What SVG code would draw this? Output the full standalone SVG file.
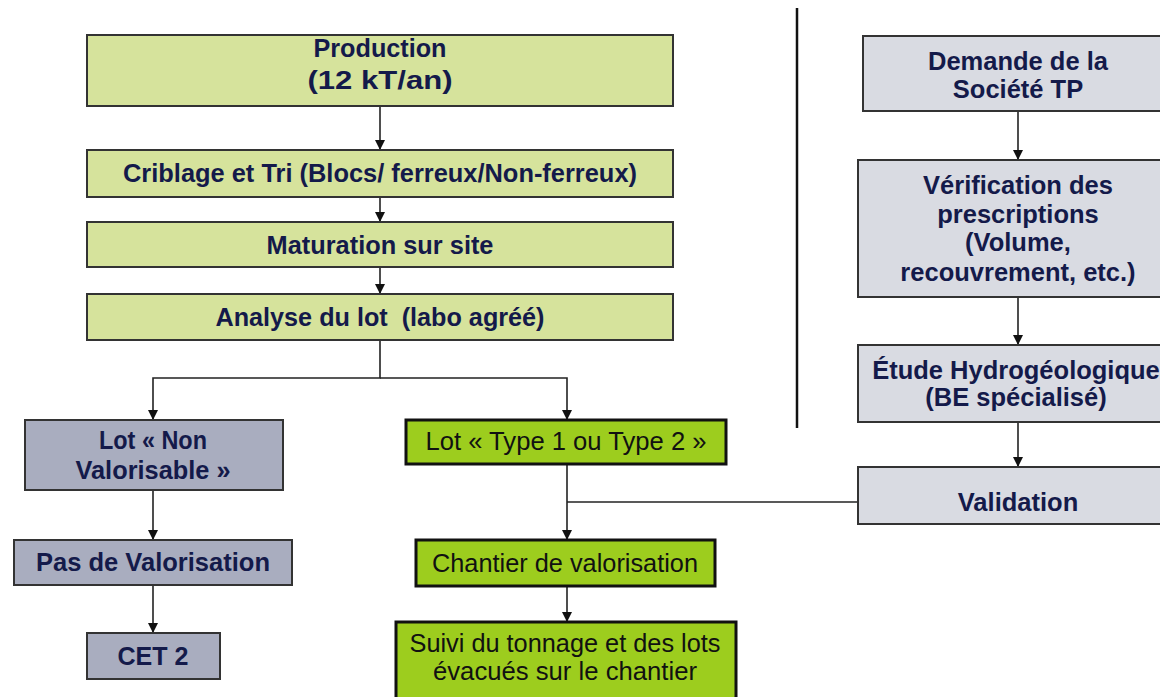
<svg xmlns="http://www.w3.org/2000/svg" width="1160" height="697" viewBox="0 0 1160 697">
<defs>
<marker id="ah" viewBox="0 0 10 10" refX="10" refY="5" markerWidth="10" markerHeight="10" markerUnits="userSpaceOnUse" orient="auto">
<path d="M0,0 L10,5 L0,10 Z" fill="#111"/>
</marker>
<style>
.pg{fill:#d6e39c;stroke:#333;stroke-width:2}
.bg{fill:#9dcd1e;stroke:#111;stroke-width:3}
.gb{fill:#a9adbf;stroke:#333;stroke-width:2}
.lg{fill:#d9dbe2;stroke:#333;stroke-width:2}
.tb{font-family:"Liberation Sans",Arial,sans-serif;font-weight:bold;font-size:26.5px;fill:#141a4a;text-anchor:middle}
.tr{font-family:"Liberation Sans",Arial,sans-serif;font-size:26px;fill:#111;text-anchor:middle}
.tw{font-family:"Liberation Sans",Arial,sans-serif;font-weight:bold;font-size:25.5px;fill:#141a4a;text-anchor:middle}
.ln{fill:none;stroke:#222;stroke-width:1.6}
</style>
</defs>
<rect width="1160" height="697" fill="#fff"/>
<g id="connectors">
<line class="ln" x1="380" y1="106" x2="380" y2="150" marker-end="url(#ah)"/>
<line class="ln" x1="380" y1="197" x2="380" y2="222" marker-end="url(#ah)"/>
<line class="ln" x1="380" y1="267" x2="380" y2="294" marker-end="url(#ah)"/>
<polyline class="ln" points="380,340 380,378 153,378 153,420" marker-end="url(#ah)"/>
<polyline class="ln" points="380,378 567,378 567,420" marker-end="url(#ah)"/>
<line class="ln" x1="153" y1="490" x2="153" y2="540" marker-end="url(#ah)"/>
<line class="ln" x1="153" y1="585" x2="153" y2="633" marker-end="url(#ah)"/>
<line class="ln" x1="567" y1="464" x2="567" y2="540" marker-end="url(#ah)"/>
<line class="ln" x1="567" y1="502" x2="858" y2="502"/>
<line class="ln" x1="567" y1="586" x2="567" y2="622" marker-end="url(#ah)"/>
<line x1="797" y1="8" x2="797" y2="428" stroke="#111" stroke-width="2.5"/>
<line class="ln" x1="1018" y1="111" x2="1018" y2="160" marker-end="url(#ah)"/>
<line class="ln" x1="1018" y1="297" x2="1018" y2="345" marker-end="url(#ah)"/>
<line class="ln" x1="1018" y1="422" x2="1018" y2="467" marker-end="url(#ah)"/>
</g>
<g id="production">
<rect class="pg" x="87" y="35" width="586" height="71"/>
<text class="tb" x="380" y="57" textLength="133" lengthAdjust="spacingAndGlyphs">Production</text>
<text class="tb" x="380" y="89" textLength="145" lengthAdjust="spacingAndGlyphs">(12 kT/an)</text>
</g>
<g id="criblage">
<rect class="pg" x="87" y="150" width="586" height="47"/>
<text class="tb" x="380" y="182" textLength="514" lengthAdjust="spacingAndGlyphs">Criblage et Tri (Blocs/ ferreux/Non-ferreux)</text>
</g>
<g id="maturation">
<rect class="pg" x="87" y="222" width="586" height="45"/>
<text class="tb" x="380" y="254" textLength="227" lengthAdjust="spacingAndGlyphs">Maturation sur site</text>
</g>
<g id="analyse">
<rect class="pg" x="87" y="294" width="586" height="46"/>
<text class="tb" x="380" y="326" textLength="329" lengthAdjust="spacingAndGlyphs" xml:space="preserve">Analyse du lot  (labo agréé)</text>
</g>
<g id="lot-non-valorisable">
<rect class="gb" x="25" y="420" width="258" height="70"/>
<text class="tb" x="153" y="449" textLength="108" lengthAdjust="spacingAndGlyphs">Lot « Non</text>
<text class="tb" x="153" y="479" textLength="155" lengthAdjust="spacingAndGlyphs">Valorisable »</text>
</g>
<g id="pas-de-valorisation">
<rect class="gb" x="14" y="540" width="278" height="45"/>
<text class="tb" x="153" y="571" textLength="234" lengthAdjust="spacingAndGlyphs">Pas de Valorisation</text>
</g>
<g id="cet2">
<rect class="gb" x="87" y="633" width="133" height="46"/>
<text class="tb" x="153" y="665" textLength="71" lengthAdjust="spacingAndGlyphs">CET 2</text>
</g>
<g id="lot-type">
<rect class="bg" x="406" y="420" width="320" height="44"/>
<text class="tr" x="566" y="450" textLength="281" lengthAdjust="spacingAndGlyphs">Lot « Type 1 ou Type 2 »</text>
</g>
<g id="chantier">
<rect class="bg" x="416" y="540" width="299" height="46"/>
<text class="tr" x="565" y="572" textLength="266" lengthAdjust="spacingAndGlyphs">Chantier de valorisation</text>
</g>
<g id="suivi">
<rect class="bg" x="396" y="622" width="340" height="80"/>
<text class="tr" x="565" y="652" textLength="311" lengthAdjust="spacingAndGlyphs">Suivi du tonnage et des lots</text>
<text class="tr" x="565" y="680" textLength="264" lengthAdjust="spacingAndGlyphs">évacués sur le chantier</text>
</g>
<g id="demande">
<rect class="lg" x="863" y="36" width="305" height="75"/>
<text class="tw" x="1018" y="70">Demande de la</text>
<text class="tw" x="1018" y="98">Société TP</text>
</g>
<g id="verification">
<rect class="lg" x="858" y="160" width="310" height="137"/>
<text class="tw" x="1018" y="194">Vérification des</text>
<text class="tw" x="1018" y="223">prescriptions</text>
<text class="tw" x="1018" y="251">(Volume,</text>
<text class="tw" x="1018" y="281">recouvrement, etc.)</text>
</g>
<g id="etude">
<rect class="lg" x="858" y="345" width="310" height="77"/>
<text class="tw" x="1016" y="379">Étude Hydrogéologique</text>
<text class="tw" x="1016" y="406">(BE spécialisé)</text>
</g>
<g id="validation">
<rect class="lg" x="858" y="467" width="310" height="57"/>
<text class="tw" x="1018" y="511">Validation</text>
</g>
</svg>
